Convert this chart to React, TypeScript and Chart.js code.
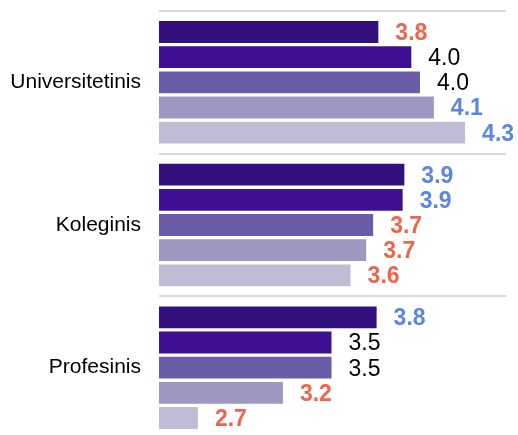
import React, { useEffect, useRef } from "react";
import { Chart, registerables } from "chart.js";

Chart.register(...registerables);

const categories = ["Universitetinis", "Koleginis", "Profesinis"];
const seriesNames = ["Grupė 1", "Grupė 2", "Grupė 3", "Grupė 4", "Grupė 5"];

const series1 = [3.77, 3.92, 3.76];
const series2 = [3.96, 3.91, 3.5];
const series3 = [4.01, 3.74, 3.5];
const series4 = [4.09, 3.7, 3.22];
const series5 = [4.27, 3.61, 2.73];

// comparison tone of each value label: low / mid / high
const tones1 = ["low", "high", "high"];
const tones2 = ["mid", "high", "mid"];
const tones3 = ["mid", "low", "mid"];
const tones4 = ["high", "low", "low"];
const tones5 = ["high", "low", "low"];

const xMin = 2.5;
const xMax = 4.5;

const barColors = ["#33107e", "#3d1093", "#6a5ca6", "#9d97c2", "#c0bcd6"];
const FONT = "'Liberation Sans', Arial, Helvetica, sans-serif";

const toneStyle: Record<string, { color: string; weight: string }> = {
  low: { color: "#f2644a", weight: "bold" },
  mid: { color: "#000000", weight: "normal" },
  high: { color: "#5b86e3", weight: "bold" },
};

export default function App() {
  const ref = useRef<HTMLCanvasElement>(null);

  useEffect(() => {
    if (!ref.current) return;
    const allValues = [series1, series2, series3, series4, series5];
    const allTones = [tones1, tones2, tones3, tones4, tones5];

    const valueLabels = {
      id: "valueLabels",
      afterDatasetsDraw(chart: any) {
        const ctx = chart.ctx;
        ctx.save();
        ctx.textAlign = "left";
        ctx.textBaseline = "middle";
        chart.data.datasets.forEach((ds: any, di: number) => {
          const meta = chart.getDatasetMeta(di);
          meta.data.forEach((bar: any, i: number) => {
            const v = ds.data[i];
            const st = toneStyle[allTones[di][i]];
            ctx.fillStyle = st.color;
            ctx.font = `${st.weight} 23px ${FONT}`;
            ctx.fillText(v.toFixed(1), bar.x + 16, bar.y + 1.5);
          });
        });
        ctx.restore();
      },
    };

    const chart = new Chart(ref.current, {
      type: "bar",
      data: {
        labels: categories,
        datasets: allValues.map((vals, i) => ({
          label: seriesNames[i],
          data: vals,
          backgroundColor: barColors[i],
          borderColor: "rgba(255,255,255,0.3)",
          borderWidth: 1,
          categoryPercentage: 0.882,
          barPercentage: 0.95,
        })),
      },
      options: {
        indexAxis: "y",
        animation: false,
        responsive: false,
        maintainAspectRatio: false,
        layout: { padding: { left: 0, right: 12, top: 11, bottom: 11 } },
        plugins: {
          legend: { display: false },
          tooltip: { enabled: false },
        },
        scales: {
          x: {
            display: false,
            min: xMin,
            max: xMax,
          },
          y: {
            afterFit(scale: any) {
              scale.width = 159;
              scale.paddingTop = 0;
              scale.paddingBottom = 0;
            },
            border: { display: false },
            grid: {
              offset: true,
              drawTicks: false,
              color: "#d9d9d9",
              lineWidth: 2,
            },
            ticks: {
              padding: 18,
              color: "#000000",
              font: { size: 21, family: FONT },
            },
          },
        },
      },
      plugins: [valueLabels],
    });
    return () => chart.destroy();
  }, []);

  return (
    <div
      style={{
        position: "absolute",
        left: 0,
        top: 0,
        width: 518,
        height: 435,
        overflow: "hidden",
        background: "#ffffff",
      }}
    >
      <canvas ref={ref} width={518} height={450} style={{ display: "block" }} />
    </div>
  );
}
